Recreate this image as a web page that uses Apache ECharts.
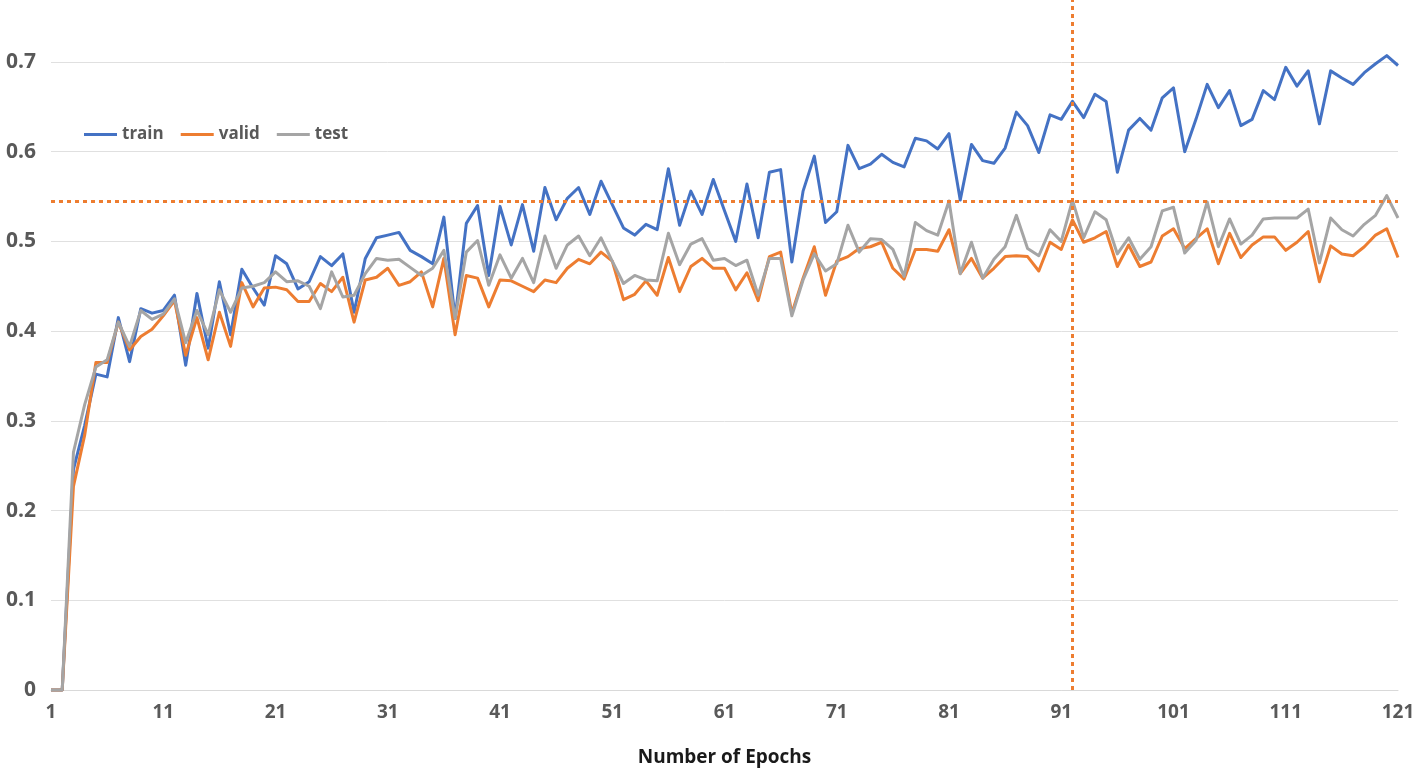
<!DOCTYPE html>
<html>
<head>
<meta charset="utf-8">
<script src="https://cdn.jsdelivr.net/npm/echarts@6/dist/echarts.min.js"></script>
<style>html,body{margin:0;padding:0;background:#fff;}#c{width:1418px;height:772px;}</style>
</head>
<body>
<div id="c"></div>
<script>
const epochs = [];
for (let i = 1; i <= 121; i++) epochs.push(String(i));

const train = [0,0,0.246,0.295,0.352,0.349,0.415,0.366,0.425,0.42,
0.423,0.44,0.362,0.442,0.381,0.455,0.396,0.469,0.448,0.429,
0.484,0.475,0.447,0.455,0.483,0.473,0.486,0.421,0.481,0.504,
0.507,0.51,0.49,0.483,0.475,0.527,0.414,0.52,0.54,0.462,
0.539,0.496,0.541,0.489,0.56,0.524,0.548,0.56,0.53,0.567,
0.541,0.515,0.507,0.519,0.513,0.581,0.518,0.556,0.53,0.569,
0.534,0.5,0.564,0.504,0.577,0.58,0.477,0.556,0.595,0.521,
0.533,0.607,0.581,0.586,0.597,0.588,0.583,0.615,0.612,0.603,
0.62,0.546,0.608,0.59,0.587,0.604,0.644,0.629,0.599,0.641,
0.636,0.656,0.638,0.664,0.656,0.577,0.624,0.637,0.624,0.66,
0.671,0.6,0.636,0.675,0.649,0.668,0.629,0.636,0.668,0.658,
0.694,0.673,0.69,0.631,0.69,0.682,0.675,0.688,0.698,0.707,
0.696];

const valid = [0,0,0.227,0.284,0.365,0.365,0.41,0.379,0.394,0.402,
0.417,0.434,0.373,0.415,0.368,0.421,0.383,0.454,0.427,0.448,
0.449,0.446,0.433,0.433,0.453,0.444,0.46,0.41,0.457,0.46,
0.47,0.451,0.455,0.466,0.427,0.481,0.396,0.462,0.459,0.427,
0.457,0.456,0.45,0.444,0.457,0.454,0.47,0.48,0.475,0.488,
0.478,0.435,0.441,0.456,0.44,0.482,0.444,0.472,0.481,0.47,
0.47,0.446,0.465,0.434,0.483,0.488,0.42,0.459,0.494,0.44,
0.478,0.483,0.492,0.494,0.499,0.47,0.458,0.491,0.491,0.489,
0.513,0.464,0.481,0.459,0.47,0.483,0.484,0.483,0.467,0.499,
0.491,0.524,0.499,0.504,0.511,0.472,0.496,0.472,0.477,0.506,
0.514,0.492,0.503,0.514,0.475,0.509,0.482,0.496,0.505,0.505,
0.49,0.499,0.511,0.455,0.495,0.486,0.484,0.494,0.507,0.514,
0.482];

const test = [0,0,0.265,0.318,0.36,0.368,0.41,0.383,0.423,0.413,
0.419,0.436,0.387,0.423,0.396,0.446,0.421,0.448,0.45,0.454,
0.466,0.455,0.456,0.45,0.425,0.466,0.438,0.44,0.464,0.481,
0.479,0.48,0.471,0.462,0.47,0.49,0.414,0.488,0.501,0.451,
0.485,0.459,0.481,0.454,0.506,0.47,0.496,0.506,0.484,0.504,
0.478,0.453,0.462,0.457,0.456,0.509,0.474,0.497,0.503,0.479,
0.481,0.473,0.479,0.44,0.481,0.481,0.417,0.457,0.486,0.467,
0.475,0.518,0.488,0.503,0.502,0.491,0.461,0.521,0.512,0.507,
0.545,0.464,0.499,0.459,0.48,0.494,0.529,0.492,0.484,0.513,
0.5,0.546,0.504,0.533,0.524,0.486,0.504,0.48,0.494,0.534,
0.538,0.487,0.501,0.544,0.494,0.525,0.497,0.507,0.525,0.526,
0.526,0.526,0.536,0.476,0.526,0.513,0.506,0.519,0.529,0.551,
0.526];

const refLevel = 0.545;
const refEpoch = '92';

const chart = echarts.init(document.getElementById('c'), null, {renderer: 'canvas'});
const lineSeries = (name, data, color) => ({
  name, type: 'line', data, showSymbol: false, symbol: 'none',
  lineStyle: {color, width: 3, join: 'round'}, itemStyle: {color},
  clip: false, animation: false
});
const sTrain = lineSeries('train', train, '#4472C4');
const sValid = lineSeries('valid', valid, '#ED7D31');
const sTest = lineSeries('test', test, '#A5A5A5');
sTest.markLine = {
  silent: true, symbol: 'none', animation: false, precision: 4,
  label: {show: false},
  lineStyle: {color: '#ED7D31', width: 3, type: [4, 4]},
  data: [{yAxis: refLevel}, {xAxis: refEpoch}]
};

chart.setOption({
  backgroundColor: '#fff',
  animation: false,
  grid: {left: 51, right: 20, top: 0, bottom: 79},
  legend: {
    left: 79, top: 121, itemWidth: 33, itemHeight: 3, itemGap: 17, icon: 'rect',
    textStyle: {color: '#595959', fontSize: 17, fontWeight: 'bold', fontFamily: 'Open Sans'},
    data: ['train', 'valid', 'test']
  },
  xAxis: {
    type: 'category', data: epochs, boundaryGap: false,
    name: 'Number of Epochs', nameLocation: 'middle', nameGap: 58,
    nameTextStyle: {color: '#1a1a1a', fontSize: 19, fontWeight: 'bold', fontFamily: 'Open Sans'},
    axisLine: {lineStyle: {color: '#d9d9d9', width: 1}},
    axisTick: {show: false},
    axisLabel: {interval: 9, color: '#595959', fontSize: 19, fontWeight: 'bold', margin: 13, fontFamily: 'Open Sans'},
    splitLine: {show: false}
  },
  yAxis: {
    type: 'value', min: 0, max: 0.769, interval: 0.1,
    axisLine: {show: false}, axisTick: {show: false},
    axisLabel: {color: '#595959', fontSize: 21, fontWeight: 'bold', margin: 15, showMaxLabel: false,
      fontFamily: 'Open Sans', formatter: v => (Math.abs(v * 10 - Math.round(v * 10)) < 1e-6 ? String(Math.round(v * 10) / 10) : '')},
    splitLine: {show: true, showMaxLine: false, lineStyle: {color: '#e0e0e0', width: 1}}
  },
  series: [sTrain, sValid, sTest]
});
</script>
</body>
</html>
